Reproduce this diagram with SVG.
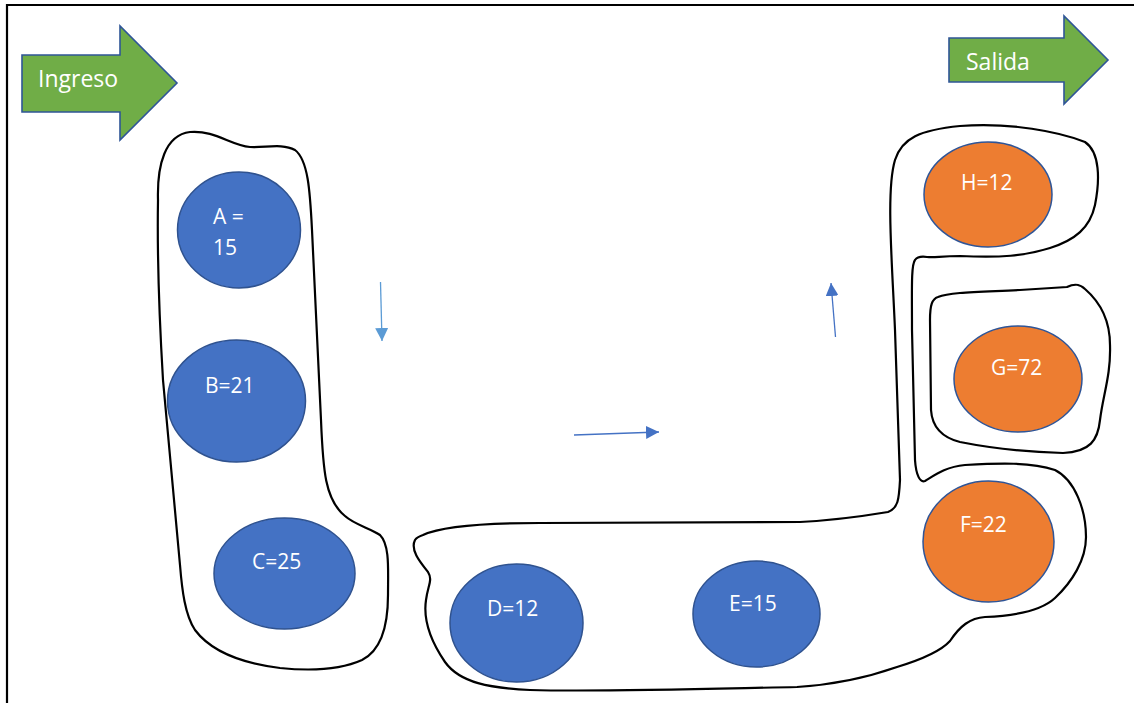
<svg xmlns="http://www.w3.org/2000/svg" width="1134" height="703" viewBox="0 0 1134 703">
<style>
.frame{stroke:#000;stroke-width:2.2;fill:none}
.group{fill:none;stroke:#000;stroke-width:2.2;stroke-linejoin:round}
.blk{fill:#70AD47;stroke:#2F5597;stroke-width:1.6}
.blue{fill:#4472C4;stroke:#2F528F;stroke-width:1.5}
.orange{fill:#ED7D31;stroke:#2F5597;stroke-width:1.5}
.lbl{font-family:"Open Sans","Liberation Sans",sans-serif;font-size:21px;fill:#fff}
.big{font-family:"Open Sans","Liberation Sans",sans-serif;font-size:23px;fill:#fff}
.c1{stroke:#5B9BD5;stroke-width:1.3;fill:none}
.c2{stroke:#4472C4;stroke-width:1.3;fill:none}
</style>
<defs>
<marker id="hl" viewBox="0 0 10 10" refX="10" refY="5" markerWidth="13" markerHeight="13" markerUnits="userSpaceOnUse" orient="auto"><path d="M0,0 L10,5 L0,10 Z" fill="#5B9BD5"/></marker>
<marker id="hd" viewBox="0 0 10 10" refX="10" refY="5" markerWidth="13" markerHeight="13" markerUnits="userSpaceOnUse" orient="auto"><path d="M0,0 L10,5 L0,10 Z" fill="#4472C4"/></marker>
</defs>
<rect width="1134" height="703" fill="#fff"/>
<path class="frame" d="M7,703 L7,5 L1134,5"/>

<g id="ingreso">
<path class="blk" d="M22,55 L120,55 L120,26 L177,83 L120,140 L120,112 L22,112 Z"/>
<text class="big" x="38" y="87">Ingreso</text>
</g>
<g id="salida">
<path class="blk" d="M949,38 L1064,38 L1064,16 L1108,60 L1064,104 L1064,82 L949,82 Z"/>
<text class="big" x="966" y="70">Salida</text>
</g>

<g id="group-abc">
<path class="group" d="M158,200 C157,165 165,135 190,132 C215,130 230,145 250,147 C265,148 282,143 295,150 C308,160 310,190 312,230 L321,420 C323,470 325,500 345,516 C355,525 370,528 380,535 C390,545 388,570 388,595 C388,625 382,650 362,660 C340,670 310,671 280,668 C240,663 210,650 195,630 C185,615 182,590 180,565 L163,380 C160,330 157,260 158,200 Z"/>
</g>
<g id="group-defh">
<path class="group" d="M423,535 C440,527 480,523 540,523 L800,522 C840,520 870,515 888,512 C898,508 899,500 900,480 L895,330 C892,260 886,190 895,160 C902,138 920,130 960,126 C1010,122 1060,132 1085,142 C1100,152 1100,180 1095,205 C1090,228 1075,240 1050,248 C1025,256 1000,258 960,256 C940,256 935,258 927,257 C920,256 917,257 915,260 C911,265 912,290 912,330 L915,460 C916,475 920,483 925,481 C935,475 945,467 965,465 C1000,463 1030,462 1055,470 C1075,480 1086,510 1086,537 C1086,560 1072,582 1055,598 C1040,612 1010,616 985,617 C970,618 960,626 950,641 C940,652 920,660 897,667 C860,680 830,685 797,687 C700,689 600,692 530,690 C490,688 460,683 445,662 C430,640 423,620 426,600 C428,585 433,580 428,572 C420,562 410,550 415,540 C417,537 420,536 423,535 Z"/>
</g>
<g id="group-g">
<path class="group" d="M938,297 C950,292 980,292 1020,290 L1067,287 C1075,283 1080,284 1085,289 C1100,302 1110,320 1110,345 C1111,375 1103,395 1100,420 C1098,440 1090,452 1063,453 C1030,452 990,448 960,442 C940,437 932,425 931,410 L930,320 C930,305 932,299 938,297 Z"/>
</g>

<g id="node-a"><ellipse class="blue" cx="239" cy="230" rx="61.5" ry="58"/><text class="lbl" x="213" y="224">A =</text><text class="lbl" x="213" y="255">15</text></g>
<g id="node-b"><ellipse class="blue" cx="236.5" cy="401" rx="69" ry="61"/><text class="lbl" x="205" y="393">B=21</text></g>
<g id="node-c"><ellipse class="blue" cx="284.5" cy="573.5" rx="70.5" ry="55.5"/><text class="lbl" x="252" y="569">C=25</text></g>
<g id="node-d"><ellipse class="blue" cx="516.5" cy="623" rx="66.5" ry="59"/><text class="lbl" x="487" y="616">D=12</text></g>
<g id="node-e"><ellipse class="blue" cx="756.5" cy="614" rx="63.5" ry="53"/><text class="lbl" x="729" y="611">E=15</text></g>
<g id="node-f"><ellipse class="orange" cx="988.5" cy="541.5" rx="65.5" ry="60.5"/><text class="lbl" x="960" y="532">F=22</text></g>
<g id="node-g"><ellipse class="orange" cx="1018" cy="379" rx="64" ry="53"/><text class="lbl" x="991" y="375">G=72</text></g>
<g id="node-h"><ellipse class="orange" cx="988" cy="194.5" rx="64" ry="52.5"/><text class="lbl" x="961" y="190">H=12</text></g>

<g id="connectors">
<path class="c1" d="M380.5,282 L382,341" marker-end="url(#hl)"/>
<path class="c2" d="M574,435 L659,432" marker-end="url(#hd)"/>
<path class="c2" d="M835.5,337 L831,283" marker-end="url(#hd)"/>
</g>
</svg>
